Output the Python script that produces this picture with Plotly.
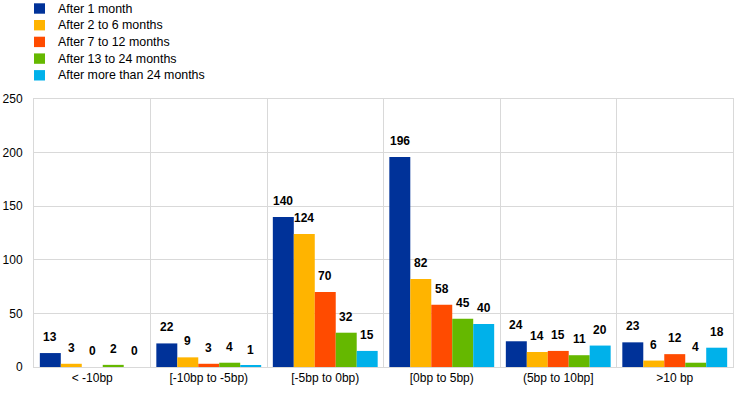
import plotly.graph_objects as go

categories = ["< -10bp", "[-10bp to -5bp)", "[-5bp to 0bp)", "[0bp to 5bp)", "(5bp to 10bp]", ">10 bp"]
series_names = ["After 1 month", "After 2 to 6 months", "After 7 to 12 months",
                "After 13 to 24 months", "After more than 24 months"]
after_1m = [13, 22, 140, 196, 24, 23]
after_2_6m = [3, 9, 124, 82, 14, 6]
after_7_12m = [0, 3, 70, 58, 15, 12]
after_13_24m = [2, 4, 32, 45, 11, 4]
after_24m_plus = [0, 1, 15, 40, 20, 18]
colors = ["#003299", "#FFB400", "#FF4B00", "#65B800", "#00B1EA"]

series = [after_1m, after_2_6m, after_7_12m, after_13_24m, after_24m_plus]
x_idx = list(range(len(categories)))

W, H = 744, 395
ML, MR, MT, MB = 34, 11, 99, 28
PW, PH = W - ML - MR, H - MT - MB


def px_x(px):
    return (px - ML) / PW


def px_y(py):
    return 1 + (MT - py) / PH


fig = go.Figure()
n = len(series)
bargap = 0.1
bw = (1 - bargap) / n
annotations = []
shapes = []
for i, (name, vals, col) in enumerate(zip(series_names, series, colors)):
    fig.add_trace(go.Bar(x=x_idx, y=vals, name=name, marker_color=col,
                         marker_line_width=0, showlegend=False))
    off = -(1 - bargap) / 2 + bw * (i + 0.5)
    for xi, v in zip(x_idx, vals):
        annotations.append(dict(x=xi + off, y=v, text=str(v), showarrow=False,
                                xref="x", yref="y", yanchor="bottom", yshift=7,
                                font=dict(family="Liberation Sans, Arial", size=12,
                                          color="#000000", weight="bold")))
    # legend entry (manual, to match compact row spacing)
    cy = 8.5 + i * 16.7
    shapes.append(dict(type="rect", xref="paper", yref="paper",
                       x0=px_x(34), x1=px_x(45), y0=px_y(cy - 5.2), y1=px_y(cy + 5.2),
                       fillcolor=col, line=dict(width=0), layer="above"))
    annotations.append(dict(x=px_x(56), y=px_y(cy), xref="paper", yref="paper",
                            text=name, showarrow=False, xanchor="left", yanchor="middle",
                            font=dict(family="Liberation Sans, Arial", size=12.4,
                                      color="#000000")))

fig.update_layout(
    width=W, height=H,
    margin=dict(l=ML, r=MR, t=MT, b=MB, autoexpand=False),
    barmode="group", bargap=bargap, bargroupgap=0,
    plot_bgcolor="white", paper_bgcolor="white",
    font=dict(family="Liberation Sans, Arial", size=12, color="#000000"),
    showlegend=False,
    annotations=annotations,
    shapes=shapes,
)
fig.update_xaxes(range=[-0.5, len(categories) - 0.5], tickvals=x_idx, ticktext=categories,
                 showgrid=False, ticks="", showline=True, linecolor="#d9d9d9", mirror=True,
                 linewidth=1, zeroline=False,
                 minor=dict(tickmode="linear", tick0=0.5, dtick=1, showgrid=True,
                            gridcolor="#d9d9d9", gridwidth=1, ticks=""))
fig.update_yaxes(range=[0, 250], dtick=50, showgrid=True, gridcolor="#d9d9d9", gridwidth=1,
                 showline=True, linecolor="#d9d9d9", mirror=True, zeroline=False, ticks="",
                 ticklabelstandoff=8)

fig.write_html("out.html")
